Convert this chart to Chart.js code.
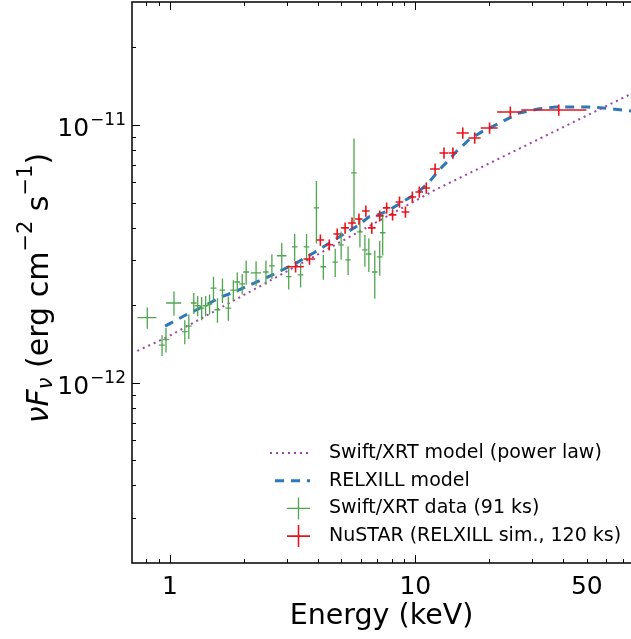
<!DOCTYPE html>
<html>
<head>
<meta charset="utf-8">
<title>Broadband spectrum</title>
<script src="https://cdn.jsdelivr.net/npm/chart.js@4.4.0/dist/chart.umd.min.js"></script>
<style>
  html, body { margin: 0; padding: 0; background: #fff; }
  #wrap { width: 631px; height: 639px; }
</style>
</head>
<body>
<div id="wrap"><canvas id="sed" width="631" height="639"></canvas></div>
<script>
// values: energy in keV, nuFnu in erg cm^-2 s^-1

// Swift/XRT model (absorbed power law)
const plE = [0.736, 0.982, 12.04, 75.7];
const plF = [1.33e-12, 1.51e-12, 5.60e-12, 1.32e-11];

// RELXILL model
const relE = [0.955, 1.182, 1.359, 1.591, 1.829, 2.122, 2.461, 2.829, 3.282, 3.843, 4.418,
              5.221, 5.890, 6.464, 6.834, 7.711, 8.864, 10.19, 11.39, 12.50, 13.59, 14.63,
              16.51, 18.63, 22.43, 26.51, 31.62, 37.37, 43.77, 50.77, 58.36, 69.62, 75.7];
const relF = [1.66e-12, 1.85e-12, 1.97e-12, 2.14e-12, 2.25e-12, 2.40e-12, 2.55e-12, 2.72e-12,
              2.92e-12, 3.19e-12, 3.46e-12, 3.82e-12, 4.10e-12, 4.40e-12, 4.44e-12, 4.64e-12,
              5.03e-12, 5.45e-12, 6.01e-12, 6.69e-12, 7.25e-12, 7.86e-12, 8.75e-12, 9.40e-12,
              1.027e-11, 1.113e-11, 1.153e-11, 1.174e-11, 1.174e-11, 1.174e-11, 1.164e-11,
              1.143e-11, 1.133e-11];

// Swift/XRT data (91 ks)
const xrtE = [0.808, 0.928, 0.963, 1.038, 1.149, 1.193, 1.250, 1.297, 1.346, 1.397, 1.450,
              1.504, 1.561, 1.636, 1.729, 1.812, 1.880, 1.970, 2.044, 2.243, 2.461, 2.602,
              2.855, 3.047, 3.222, 3.407, 3.602, 3.952, 4.217, 4.714, 4.984, 5.319, 5.623,
              5.945, 6.228, 6.464, 6.834, 7.159, 7.361];
const xrtEerr = [0.072, 0.025, 0.026, 0.073, 0.031, 0.032, 0.034, 0.035, 0.036, 0.038, 0.039,
                 0.041, 0.042, 0.044, 0.047, 0.049, 0.051, 0.053, 0.055, 0.11, 0.066, 0.07,
                 0.13, 0.08, 0.087, 0.09, 0.097, 0.1, 0.11, 0.12, 0.13, 0.14, 0.15,
                 0.16, 0.16, 0.17, 0.18, 0.19, 0.19];
const xrtF = [1.79e-12, 1.40e-12, 1.47e-12, 2.04e-12, 1.58e-12, 1.66e-12, 2.04e-12, 1.99e-12,
              1.95e-12, 1.99e-12, 2.02e-12, 2.33e-12, 1.92e-12, 2.29e-12, 1.95e-12, 2.29e-12,
              2.46e-12, 2.42e-12, 2.69e-12, 2.67e-12, 2.69e-12, 2.84e-12, 3.11e-12, 2.58e-12,
              3.37e-12, 2.62e-12, 3.37e-12, 4.77e-12, 2.82e-12, 2.94e-12, 3.43e-12, 3.00e-12,
              6.52e-12, 3.85e-12, 3.28e-12, 3.16e-12, 2.69e-12, 3.08e-12, 3.82e-12];
const xrtFerr = [0.17e-12, 0.13e-12, 0.16e-12, 0.22e-12, 0.17e-12, 0.18e-12, 0.19e-12, 0.18e-12,
                 0.20e-12, 0.18e-12, 0.18e-12, 0.25e-12, 0.21e-12, 0.25e-12, 0.21e-12, 0.21e-12,
                 0.22e-12, 0.22e-12, 0.29e-12, 0.29e-12, 0.29e-12, 0.31e-12, 0.38e-12, 0.28e-12,
                 0.41e-12, 0.28e-12, 0.41e-12, 1.30e-12, 0.31e-12, 0.37e-12, 0.43e-12, 0.38e-12,
                 2.35e-12, 0.50e-12, 0.46e-12, 0.47e-12, 0.57e-12, 0.48e-12, 0.70e-12];

// NuSTAR (RELXILL sim., 120 ks)
const nuE = [3.251, 3.703, 4.102, 4.459, 4.803, 5.173, 5.520, 5.890, 6.286, 6.646, 7.159,
             7.640, 8.078, 8.619, 9.115, 9.725, 10.38, 11.08, 12.04, 13.09, 14.23, 15.61,
             17.46, 20.07, 24.39, 38.43];
const nuEerr = [0.26, 0.2, 0.15, 0.16, 0.17, 0.19, 0.2, 0.21, 0.22, 0.24, 0.26, 0.27, 0.29,
                0.31, 0.33, 0.35, 0.37, 0.40, 0.55, 0.55, 0.55, 0.9, 1.0, 1.6, 2.85, 11.4];
const nuF = [2.82e-12, 3.02e-12, 3.58e-12, 3.43e-12, 3.78e-12, 3.99e-12, 4.17e-12, 4.32e-12,
             4.64e-12, 3.99e-12, 4.44e-12, 4.77e-12, 4.48e-12, 5.03e-12, 4.60e-12, 5.26e-12,
             5.50e-12, 5.70e-12, 6.75e-12, 7.79e-12, 7.79e-12, 9.31e-12, 8.90e-12, 9.74e-12,
             1.123e-11, 1.143e-11];
const nuFerr = [0.14e-12, 0.15e-12, 0.18e-12, 0.17e-12, 0.19e-12, 0.20e-12, 0.21e-12, 0.22e-12,
                0.23e-12, 0.20e-12, 0.22e-12, 0.24e-12, 0.22e-12, 0.25e-12, 0.23e-12, 0.26e-12,
                0.28e-12, 0.29e-12, 0.34e-12, 0.39e-12, 0.39e-12, 0.47e-12, 0.45e-12, 0.49e-12,
                0.56e-12, 0.57e-12];

// axes
const xMin = 0.736, xMax = 75.7;
const yMin = 2.0e-13, yMax = 3.0e-11;
const xTickVals = [1, 10, 50];
const xTickLabels = ['1', '10', '50'];
const xMajor = [1, 10];
const xMinor = [0.8, 0.9, 2, 3, 4, 5, 6, 7, 8, 9, 20, 30, 40, 50, 60, 70];
const yTickVals = [1e-12, 1e-11];
const yTickExp = ['\u221212', '\u221211'];
const yMinor = [3e-13, 4e-13, 5e-13, 6e-13, 7e-13, 8e-13, 9e-13,
                2e-12, 3e-12, 4e-12, 5e-12, 6e-12, 7e-12, 8e-12, 9e-12, 2e-11];

const FONT = '"DejaVu Sans", "Liberation Sans", sans-serif';

const pairs = (xs, ys) => xs.map((v, i) => ({ x: v, y: ys[i] }));

// error bars for the two data sets, through the chart scales
const errorBars = {
    id: 'errorBars',
    afterDatasetsDraw(chart) {
        const { ctx, chartArea: a, scales: { x, y } } = chart;
        ctx.save();
        ctx.beginPath();
        ctx.rect(a.left, a.top, a.right - a.left, a.bottom - a.top);
        ctx.clip();
        chart.data.datasets.forEach(ds => {
            if (!ds.xErr) return;
            ctx.strokeStyle = ds.borderColor;
            ctx.lineWidth = ds.errWidth;
            ctx.setLineDash([]);
            ds.data.forEach((p, i) => {
                const px = x.getPixelForValue(p.x);
                const py = y.getPixelForValue(p.y);
                ctx.beginPath();
                ctx.moveTo(x.getPixelForValue(p.x - ds.xErr[i]), py);
                ctx.lineTo(x.getPixelForValue(p.x + ds.xErr[i]), py);
                ctx.moveTo(px, y.getPixelForValue(p.y - ds.yErr[i]));
                ctx.lineTo(px, y.getPixelForValue(p.y + ds.yErr[i]));
                ctx.stroke();
            });
        });
        ctx.restore();
    }
};

// matplotlib-like frame with inward ticks, y labels with superscripts, y title
const frame = {
    id: 'frame',
    afterDraw(chart) {
        const { ctx, chartArea: a, scales: { x, y } } = chart;
        ctx.save();
        ctx.strokeStyle = '#000';
        ctx.lineWidth = 1;
        const tick = (vals, len) => {
            vals.forEach(v => {
                const px = Math.round(x.getPixelForValue(v)) + 0.5;
                ctx.beginPath();
                ctx.moveTo(px, a.bottom); ctx.lineTo(px, a.bottom - len);
                ctx.moveTo(px, a.top); ctx.lineTo(px, a.top + len);
                ctx.stroke();
            });
        };
        const ytick = (vals, len) => {
            vals.forEach(v => {
                const py = Math.round(y.getPixelForValue(v)) + 0.5;
                ctx.beginPath();
                ctx.moveTo(a.left, py); ctx.lineTo(a.left + len, py);
                ctx.stroke();
            });
        };
        tick(xMajor, 8); tick(xMinor, 4);
        ytick(yTickVals, 8); ytick(yMinor, 4);

        ctx.lineWidth = 1.5;
        ctx.beginPath();
        ctx.moveTo(a.right + 1, a.top);
        ctx.lineTo(a.left, a.top);
        ctx.lineTo(a.left, a.bottom);
        ctx.lineTo(a.right + 1, a.bottom);
        ctx.stroke();

        // y tick labels: 10^-12, 10^-11
        ctx.fillStyle = '#000';
        ctx.textBaseline = 'alphabetic';
        ctx.textAlign = 'left';
        yTickVals.forEach((v, i) => {
            const py = y.getPixelForValue(v);
            ctx.font = '25px ' + FONT;
            const w1 = ctx.measureText('10').width;
            ctx.font = '17px ' + FONT;
            const w2 = ctx.measureText(yTickExp[i]).width;
            const x0 = a.left - 7 - w1 - w2;
            const base = py + 11;
            ctx.font = '25px ' + FONT;
            ctx.fillText('10', x0, base);
            ctx.font = '17px ' + FONT;
            ctx.fillText(yTickExp[i], x0 + w1 + 1, base - 11);
        });

        // y axis title
        const parts = [
            { t: '\u03bd', s: 30, it: true, dy: 0 },
            { t: 'F', s: 30, it: true, dy: 0 },
            { t: '\u03bd', s: 21, it: true, dy: 7 },
            { t: ' (erg cm', s: 30, it: false, dy: 0 },
            { t: '\u22122', s: 21, it: false, dy: -13 },
            { t: ' s', s: 30, it: false, dy: 0 },
            { t: '\u22121', s: 21, it: false, dy: -13 },
            { t: ')', s: 30, it: false, dy: 0 }
        ];
        const fontOf = p => (p.it ? 'italic ' : '') + p.s + 'px ' + FONT;
        let total = 0;
        parts.forEach(p => { ctx.font = fontOf(p); p.w = ctx.measureText(p.t).width; total += p.w; });
        ctx.translate(40, 288);
        ctx.rotate(-Math.PI / 2);
        let cx = -total / 2;
        ctx.textBaseline = 'middle';
        parts.forEach(p => {
            ctx.font = fontOf(p);
            ctx.fillText(p.t, cx, p.dy);
            cx += p.w;
        });
        ctx.restore();
    }
};

// legend in the lower right, no frame
const legendBox = {
    id: 'legendBox',
    afterDraw(chart) {
        const ctx = chart.ctx;
        ctx.save();
        ctx.font = '19px ' + FONT;
        ctx.textBaseline = 'middle';
        ctx.textAlign = 'left';
        chart.data.datasets.forEach((ds, i) => {
            const yy = 453 + i * 27.7;
            ctx.strokeStyle = ds.borderColor;
            if (ds.xErr) {
                ctx.lineWidth = ds.errWidth;
                ctx.setLineDash([]);
                ctx.beginPath();
                ctx.moveTo(287, yy); ctx.lineTo(310, yy);
                ctx.moveTo(298.5, yy - 11); ctx.lineTo(298.5, yy + 11);
                ctx.stroke();
            } else {
                ctx.lineWidth = ds.borderWidth;
                ctx.setLineDash(ds.borderDash || []);
                ctx.beginPath();
                ctx.moveTo(ds.borderDash[0] > 4 ? 275 : 270, yy);
                ctx.lineTo(310, yy);
                ctx.stroke();
            }
            ctx.fillStyle = '#000';
            ctx.fillText(ds.label, 329, yy);
        });
        ctx.restore();
    }
};

new Chart(document.getElementById('sed'), {
    type: 'scatter',
    data: {
        datasets: [
            {
                label: 'Swift/XRT model (power law)',
                data: pairs(plE, plF),
                showLine: true, pointRadius: 0,
                borderColor: '#9a45a6', borderWidth: 2, borderDash: [2, 4]
            },
            {
                label: 'RELXILL model',
                data: pairs(relE, relF),
                showLine: true, pointRadius: 0,
                borderColor: '#2d78b6', borderWidth: 3, borderDash: [9, 7]
            },
            {
                label: 'Swift/XRT data (91 ks)',
                data: pairs(xrtE, xrtF),
                pointRadius: 0, borderColor: '#4ea64e', errWidth: 1.3,
                xErr: xrtEerr, yErr: xrtFerr
            },
            {
                label: 'NuSTAR (RELXILL sim., 120 ks)',
                data: pairs(nuE, nuF),
                pointRadius: 0, borderColor: '#e8141c', errWidth: 1.6,
                xErr: nuEerr, yErr: nuFerr
            }
        ]
    },
    options: {
        responsive: false,
        animation: false,
        devicePixelRatio: 1,
        layout: { padding: { top: 2, right: 0, bottom: 0, left: 0 } },
        plugins: { legend: { display: false }, tooltip: { enabled: false } },
        scales: {
            x: {
                type: 'logarithmic',
                min: xMin, max: xMax,
                afterBuildTicks: s => { s.ticks = xTickVals.map(v => ({ value: v })); },
                afterFit: s => { s.height = 76; },
                grid: { display: false },
                border: { display: false },
                ticks: {
                    autoSkip: false, maxRotation: 0, padding: 1, color: '#000',
                    font: { family: FONT, size: 25 },
                    callback: (v, i) => xTickLabels[i]
                },
                title: {
                    display: true, text: 'Energy (keV)', color: '#000',
                    font: { family: FONT, size: 28.5 },
                    padding: { top: 0, bottom: 5 }
                }
            },
            y: {
                type: 'logarithmic',
                min: yMin, max: yMax,
                afterBuildTicks: s => { s.ticks = yTickVals.map(v => ({ value: v })); },
                afterFit: s => { s.width = 132; },
                grid: { display: false },
                border: { display: false },
                ticks: { display: false }
            }
        }
    },
    plugins: [errorBars, frame, legendBox]
});
</script>
</body>
</html>
